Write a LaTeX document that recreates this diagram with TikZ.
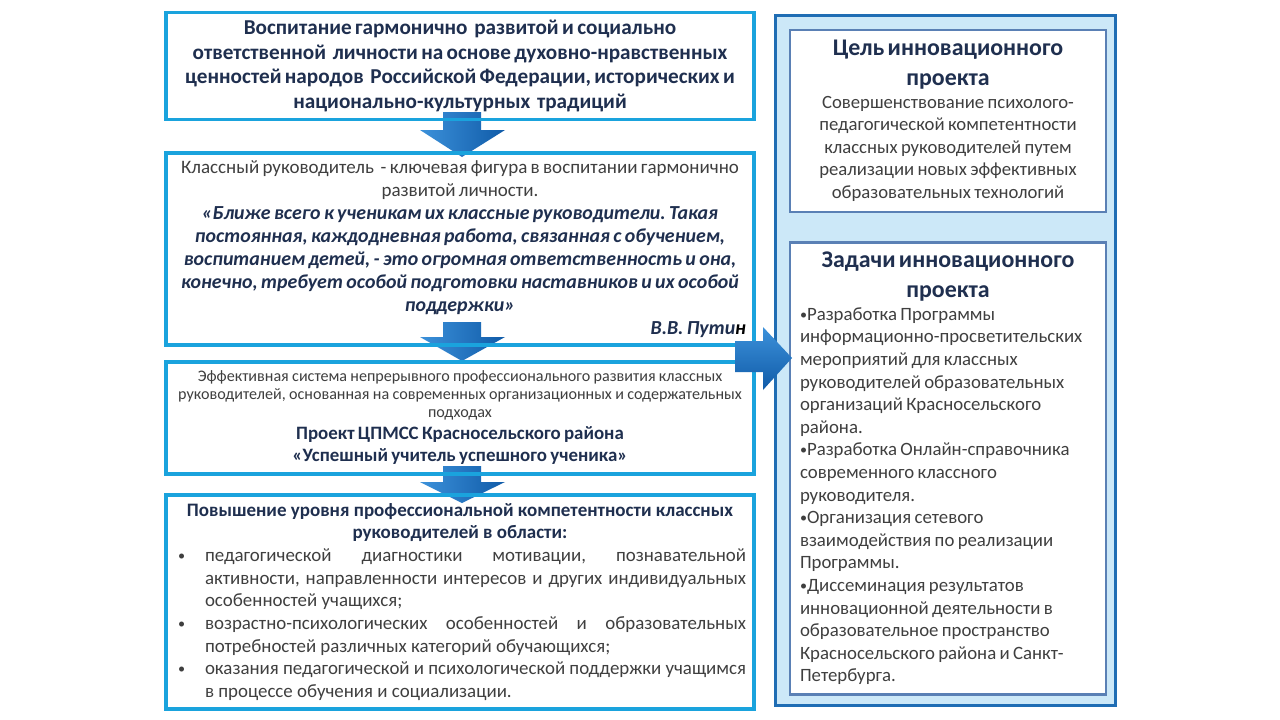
\documentclass[tikz,border=0pt]{standalone}
\usepackage{fontspec}
\setmainfont{Carlito}
\frenchspacing
\usetikzlibrary{positioning}
\definecolor{boxcyan}{HTML}{1AA3DD}
\definecolor{panelblue}{HTML}{1F6DB4}
\definecolor{panelfill}{HTML}{CCE8F8}
\definecolor{innerframe}{HTML}{5A80B5}
\definecolor{navytext}{HTML}{1F2F4F}
\definecolor{greytext}{HTML}{3F3F3F}
\definecolor{arrowlight}{HTML}{3C91DA}
\definecolor{arrowmid}{HTML}{1E74C6}
\definecolor{arrowdark}{HTML}{105BA8}
\newcommand{\smallbullet}{\raisebox{0.12ex}{\scalebox{0.75}{•}}}
\newcommand{\listbullet}{\hangindent=31pt\hangafter=1\noindent\makebox[31pt][l]{\hspace{4pt}\smallbullet}}

\begin{document}
\begin{tikzpicture}[x=1pt,y=-1pt,
    flowbox/.style={draw=boxcyan,line width=3.5pt,minimum width=588pt,inner sep=0pt,text=navytext},
    framebox/.style={draw=innerframe,fill=white,line width=2.5pt,minimum width=316pt,inner sep=0pt},
    blockarrow/.style={left color=arrowlight,middle color=arrowmid,right color=arrowdark}]
  \useasboundingbox[fill=white] (0,0) rectangle (1280,720);
  \foreach \ya/\yb/\yc in {112/130/157,322/337/361,466/482/503}
    \shade[blockarrow] (443,\ya) -- (481,\ya) -- (481,\yb) -- (505,\yb) -- (462,\yc)
      -- (420,\yb) -- (443,\yb) -- cycle;
  \node[flowbox,minimum height=107pt,text width=574pt,align=center] (aim) at (460,66)
    {\fontsize{21.2}{24.5}\selectfont\bfseries Воспитание гармонично~ развитой и социально\\
     ответственной~ личности на основе духовно-нравственных\\
     ценностей народов~ Российской Федерации, исторических и\\
     национально-культурных~ традиций\par};
  \node[flowbox,minimum height=192pt,text width=572pt,align=center] (role) at (460,249)
    {{\fontsize{19}{23}\selectfont\color{greytext}Классный руководитель~ - ключевая фигура в воспитании гармонично\\
      развитой личности.\par}
     {\fontsize{19.9}{23}\selectfont\bfseries\itshape «Ближе всего к ученикам их классные руководители. Такая\\
      постоянная, каждодневная работа, связанная с обучением,\\
      воспитанием детей, - это огромная ответственность и она,\\
      конечно, требует особой подготовки наставников и их особой\\
      поддержки»\\
      \hspace*{0pt plus 1filll}В.В. Пути{\color{black}н}\par}};
  \node[flowbox,minimum height=112pt,text width=582pt,align=center] (system) at (460,418)
    {{\fontsize{16.1}{18}\selectfont\color{greytext}Эффективная система непрерывного профессионального развития классных\\
      руководителей, основанная на современных организационных и содержательных\\
      подходах\par}
     {\fontsize{18.9}{22}\selectfont\bfseries Проект ЦПМСС Красносельского района\\
      «Успешный учитель успешного ученика»\par}};
  \node[flowbox,minimum height=214pt,text width=572pt,align=justify] (gain) at (460,602)
    {\parindent=0pt
     {\centering\fontsize{19}{22.5}\selectfont\bfseries Повышение уровня профессиональной компетентности классных\\
      руководителей в области:\par}
     {\leftskip=0pt\rightskip=0pt\parfillskip=0pt plus 1fil
      \fontsize{18.9}{22.7}\selectfont\color{greytext}
      \listbullet педагогической диагностики мотивации, познавательной\linebreak
       активности, направленности интересов и других индивидуальных\linebreak
       особенностей учащихся;\par
      \listbullet возрастно-психологических особенностей и образовательных\linebreak
       потребностей различных категорий обучающихся;\par
      \listbullet оказания педагогической и психологической поддержки учащимся\linebreak
       в процессе обучения и социализации.\par}};
  \node[draw=panelblue,fill=panelfill,line width=3pt,minimum width=340pt,minimum height=690pt] (panel) at (945,360) {};
  \node[framebox,minimum height=182pt,text width=300pt,align=center] (goal) at (948,121)
    {{\fontsize{23.9}{30}\selectfont\bfseries\color{navytext}Цель инновационного\\проекта\par}
     {\fontsize{18.7}{22.5}\selectfont\color{greytext}Совершенствование психолого-\\
      педагогической компетентности\\
      классных руководителей путем\\
      реализации новых эффективных\\
      образовательных технологий\par}};
  \node[framebox,minimum height=452pt,text width=296pt,align=left,below=28pt of goal] (tasks)
    {{\centering\fontsize{23.9}{30}\selectfont\bfseries\color{navytext}Задачи инновационного\\проекта\par}
     {\fontsize{18.8}{22.6}\selectfont\color{greytext}\smallbullet Разработка Программы\\
      информационно-просветительских\\
      мероприятий для классных\\
      руководителей образовательных\\
      организаций Красносельского\\
      района.\\
      \smallbullet Разработка Онлайн-справочника\\
      современного классного\\
      руководителя.\\
      \smallbullet Организация сетевого\\
      взаимодействия по реализации\\
      Программы.\\
      \smallbullet Диссеминация результатов\\
      инновационной деятельности в\\
      образовательное пространство\\
      Красносельского района и Санкт-\\
      Петербурга.\par}};
  \shade[top color=arrowlight,bottom color=arrowdark] (735,341) -- (763,341) -- (763,327)
    -- (792,358) -- (763,390) -- (763,372) -- (735,372) -- cycle;
\end{tikzpicture}
\end{document}
